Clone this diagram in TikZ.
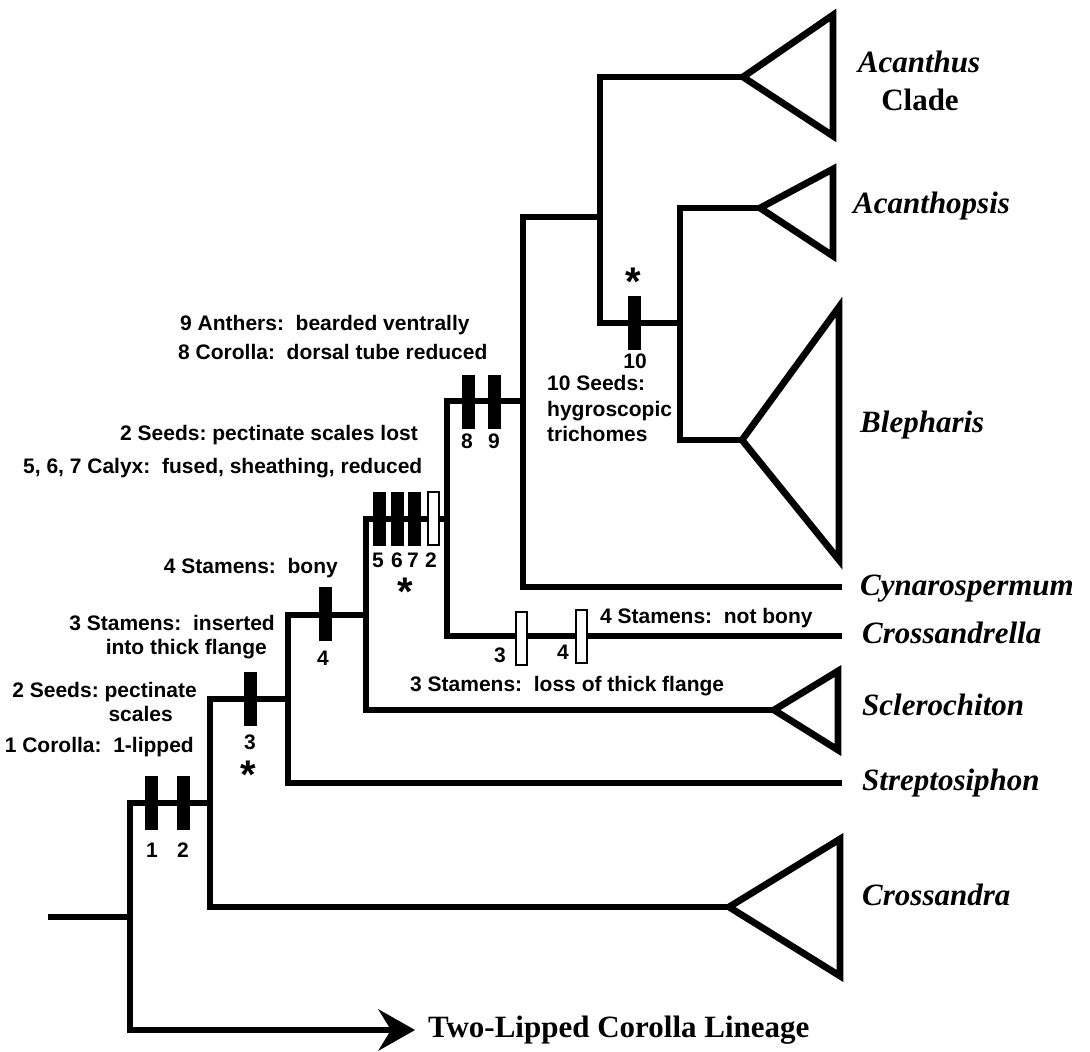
\documentclass[tikz,border=0pt]{standalone}
\usepackage{fontspec}
\setmainfont{Liberation Serif}
\newfontfamily\lsans{Liberation Sans}
\frenchspacing
\begin{document}
\begin{tikzpicture}[x=1pt,y=-1pt,
  branch/.style={line width=6.8pt, line join=miter},
  bbar/.style={fill=black, minimum width=13pt, minimum height=54pt, inner sep=0pt},
  wbar/.style={draw=black, fill=white, line width=2pt, minimum width=11pt, minimum height=53pt, inner sep=0pt},
  chr/.style={font=\lsans\bfseries\fontsize{21}{25}\selectfont, inner sep=0pt},
  taxon/.style={font=\bfseries\itshape\fontsize{31}{37}\selectfont, inner sep=0pt},
  taxonup/.style={font=\bfseries\fontsize{31}{37}\selectfont, inner sep=0pt},
  starmark/.style={font=\lsans\bfseries\fontsize{40}{40}\selectfont, inner sep=0pt}]
\useasboundingbox (0,0) rectangle (1090,1052);

% tree nodes
\coordinate (S0) at (48,917);
\coordinate (R) at (130,917);
\coordinate (A) at (210,803);
\coordinate (B) at (288,699);
\coordinate (C) at (366,615);
\coordinate (D) at (447,519);
\coordinate (E) at (523,401);
\coordinate (F) at (600,217);
\coordinate (G) at (680,323);
% tips
\coordinate (LN) at (391,1030);
\coordinate (ArT) at (415,1030);
\coordinate (ArU) at (378,1009);
\coordinate (ArD) at (378,1051);
\coordinate (CrA) at (729,907);
\coordinate (CrT) at (840,839);
\coordinate (CrB) at (840,976);
\coordinate (StE) at (842,783);
\coordinate (ScA) at (774,710);
\coordinate (ScT) at (838,671);
\coordinate (ScB) at (838,750);
\coordinate (ClE) at (842,636);
\coordinate (CyE) at (842,587);
\coordinate (AcA) at (743,77);
\coordinate (AcT) at (833,15);
\coordinate (AcB) at (833,136);
\coordinate (ApA) at (760,208);
\coordinate (ApT) at (833,169);
\coordinate (ApB) at (833,256);
\coordinate (BlA) at (742,440);
\coordinate (BlT) at (839,307);
\coordinate (BlB) at (839,560);

% branches
\draw[branch] (S0) -- (R);
\draw[branch] (A) -| (R) |- (LN);
\draw[branch] (B) -| (A) |- (CrA);
\draw[branch] (C) -| (B) |- (StE);
\draw[branch] (D) -| (C) |- (ScA);
\draw[branch] (E) -| (D) |- (ClE);
\draw[branch] (F) -| (E) |- (CyE);
\draw[branch] (AcA) -| (F) |- (G);
\draw[branch] (ApA) -| (G) |- (BlA);

% clade triangles
\draw[branch] (CrA) -- (CrT) -- (CrB) -- cycle;
\draw[branch] (ScA) -- (ScT) -- (ScB) -- cycle;
\draw[branch] (AcA) -- (AcT) -- (AcB) -- cycle;
\draw[branch] (ApA) -- (ApT) -- (ApB) -- cycle;
\draw[branch] (BlA) -- (BlT) -- (BlB) -- cycle;

% arrow head
\fill (ArT) -- (ArU) -- (LN) -- (ArD) -- cycle;

% character bars
\node[bbar] (m1) at (151,803) {};
\node[bbar] (m2) at (183,803) {};
\node[bbar] (m3) at (250,699) {};
\node[bbar] (m4) at (325,614) {};
\node[bbar] (m5) at (379,519) {};
\node[bbar] (m6) at (397,519) {};
\node[bbar] (m7) at (414,519) {};
\node[wbar] (w2) at (433,518) {};
\node[bbar] (m8) at (468,402) {};
\node[bbar] (m9) at (494,402) {};
\node[bbar] (m10) at (634,323) {};
\node[wbar] (w3) at (521,638) {};
\node[wbar] (w4) at (581,636) {};

% bar numbers
\node[chr, anchor=base] (l1) at (152,857) {1};
\node[chr, anchor=base] (l2) at (183,857) {2};
\node[chr, anchor=base] (l3) at (250,749) {3};
\node[chr, anchor=base] (l4) at (323,665) {4};
\node[chr, anchor=base] (l5) at (378,567) {5};
\node[chr, anchor=base] (l6) at (397,567) {6};
\node[chr, anchor=base] (l7) at (413,567) {7};
\node[chr, anchor=base] (l2b) at (431,567) {2};
\node[chr, anchor=base] (l8) at (467,448) {8};
\node[chr, anchor=base] (l9) at (494,448) {9};
\node[chr, anchor=base] (l3b) at (500,662) {3};
\node[chr, anchor=base] (l4b) at (563,659) {4};
\node[chr, anchor=base] (l10) at (635,368) {10};

% stars
\node[starmark] (s1) at (248,775) {*};
\node[starmark] (s2) at (405,592) {*};
\node[starmark] (s3) at (633,282) {*};

% character descriptions
\node[chr, anchor=base west] (t9) at (180,330) {9 Anthers:\ \ bearded ventrally};
\node[chr, anchor=base west] (t8) at (178,359) {8 Corolla:\ \ dorsal tube reduced};
\node[chr, anchor=base east] (t2l) at (418,440) {2 Seeds: pectinate scales lost};
\node[chr, anchor=base west] (t567) at (23,473) {5, 6, 7 Calyx:\ \ fused, sheathing, reduced};
\node[chr, anchor=base east] (t4) at (338,573) {4 Stamens:\ \ bony};
\node[chr, anchor=base east] (t3a) at (275,630) {3 Stamens:\ \ inserted};
\node[chr, anchor=base east] (t3b) at (267,654) {into thick flange};
\node[chr, anchor=base east] (t2a) at (197,697) {2 Seeds: pectinate};
\node[chr, anchor=base east] (t2b) at (173,721) {scales};
\node[chr, anchor=base east] (t1) at (194,752) {1 Corolla:\ \ 1-lipped};
\node[chr, anchor=base west] (t3l) at (410,691) {3 Stamens:\ \ loss of thick flange};
\node[chr, anchor=base west] (t4n) at (600,623) {4 Stamens:\ \ not bony};
\node[chr, anchor=base west] (t10a) at (547,390) {10 Seeds:};
\node[chr, anchor=base west] (t10b) at (547,416) {hygroscopic};
\node[chr, anchor=base west] (t10c) at (547,441) {trichomes};

% taxa
\node[taxon, anchor=base] (acan) at (919,72) {Acanthus};
\node[taxonup, anchor=base] (clade) at (920,110) {Clade};
\node[taxon, anchor=base west] (acanth) at (853,213) {Acanthopsis};
\node[taxon, anchor=base west] (bleph) at (860,432) {Blepharis};
\node[taxon, anchor=base west] (cyn) at (860,595) {Cynarospermum};
\node[taxon, anchor=base west] (crl) at (862,643) {Crossandrella};
\node[taxon, anchor=base west] (scl) at (862,715) {Sclerochiton};
\node[taxon, anchor=base west] (str) at (862,790) {Streptosiphon};
\node[taxon, anchor=base west] (cra) at (862,905) {Crossandra};
\node[taxonup, anchor=base west] (lin) at (428,1037) {Two-Lipped Corolla Lineage};
\end{tikzpicture}
\end{document}
